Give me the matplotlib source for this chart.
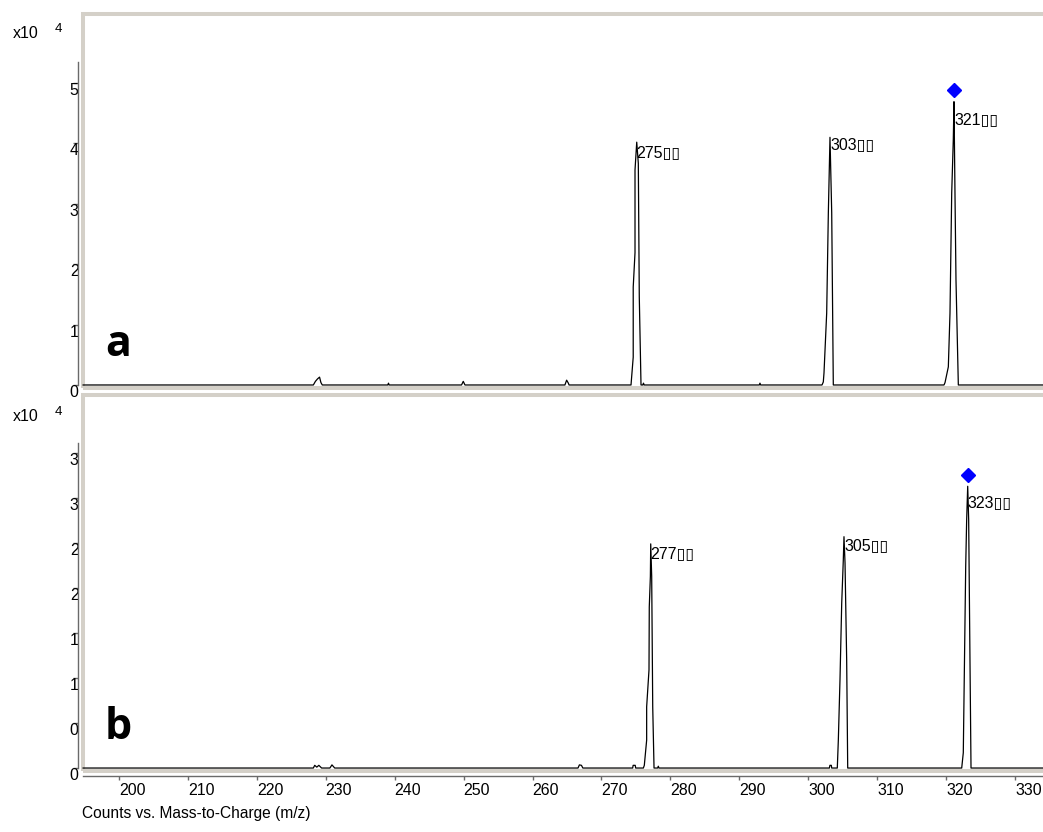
import matplotlib
matplotlib.use("Agg")
import matplotlib.pyplot as plt
from matplotlib.patches import Rectangle

plt.rcParams['font.family'] = ['Liberation Sans', 'DejaVu Sans']

# spectrum a (m/z, counts x10^4)
mz_a = [194.8, 228.2, 228.5, 228.8, 229.1, 229.3, 229.5,
        239.0, 239.1, 239.2,
        249.7, 249.95, 250.2,
        264.7, 264.95, 265.2, 265.3,
        274.29, 274.61, 274.61, 274.87, 274.87, 275.12, 275.35, 275.49, 275.74,
        276.0, 276.1, 276.2,
        292.9, 293.0, 293.1,
        302.0, 302.19, 302.29, 302.68, 302.92, 303.16, 303.41, 303.64,
        319.7, 319.85, 320.33, 320.57, 320.82, 321.05, 321.15, 321.30, 321.44, 321.78,
        334.6]
int_a = [0, 0, 0.06, 0.1, 0.13, 0.04, 0,
         0, 0.03, 0,
         0, 0.06, 0,
         0, 0.08, 0.03, 0,
         0, 0.46, 1.62, 2.19, 3.56, 4.02, 3.67, 1.46, 0,
         0, 0.03, 0,
         0, 0.03, 0,
         0, 0.05, 0.2, 1.19, 2.85, 4.1, 2.85, 0,
         0, 0.04, 0.3, 1.19, 3.18, 4.06, 4.69, 3.11, 1.74, 0,
         0]

# spectrum b
mz_b = [194.8, 228.2, 228.4, 228.7, 229.0, 229.4,
        230.6, 230.9, 231.3,
        266.6, 266.8, 267.1, 267.3,
        274.53, 274.6, 274.9, 274.97,
        276.08, 276.22, 276.56, 276.56, 276.90, 276.94, 277.10, 277.15, 277.29, 277.44, 277.63,
        278.15, 278.25, 278.35,
        303.07, 303.15, 303.35, 303.41,
        304.22, 304.37, 304.61, 304.86, 305.09, 305.19, 305.34, 305.58, 305.73,
        322.27, 322.50, 322.60, 322.85, 322.99, 323.14, 323.28, 323.47, 323.62,
        334.6]
int_b = [0, 0, 0.03, 0.01, 0.03, 0,
         0, 0.035, 0,
         0, 0.035, 0.03, 0,
         0, 0.03, 0.03, 0,
         0, 0.03, 0.31, 0.68, 1.09, 1.79, 2.13, 2.49, 2.13, 0.68, 0,
         0, 0.02, 0,
         0, 0.03, 0.03, 0,
         0, 0.31, 0.98, 1.83, 2.31, 2.57, 2.28, 1.2, 0,
         0, 0.17, 0.76, 2.24, 2.76, 3.13, 2.76, 1.2, 0,
         0]

# peak labels
lab_mz_a = [275.12, 303.16, 321.15]
lab_y_a = [3.97, 4.1, 4.51]
lab_txt_a = ['275', '303', '321']
lab_mz_b = [277.15, 305.19, 323.14]
lab_y_b = [2.47, 2.56, 3.03]
lab_txt_b = ['277', '305', '323']

# precursor diamonds
prec_a = (321.15, 4.88)
prec_b = (323.14, 3.26)

yticks_a = [0, 1, 2, 3, 4, 5]
ylabels_a = ['0', '1', '2', '3', '4', '5']
yticks_b = [0, 0.5, 1, 1.5, 2, 2.5, 3, 3.5]
ylabels_b = ['0', '0', '1', '1', '2', '2', '3', '3']
xticks = [200, 210, 220, 230, 240, 250, 260, 270, 280, 290, 300, 310, 320, 330]

W, H = 1043, 832
fig = plt.figure(figsize=(W / 100, H / 100), dpi=100)

frame_col = '#d4d0c8'
axis_col = '#6a6a6a'
fs = 11.5


def px(x, y):
    return x / W, 1 - y / H


def setup(ax, mz, inten, labx, laby, labt, prec, yt, yl, ylim, spine_top, tag):
    ax.plot(mz, inten, color='black', lw=0.9, zorder=3, clip_on=False)
    ax.plot([prec[0]], [prec[1]], marker='D', color='#0000ff', ms=7.5, ls='none', zorder=4)
    for x, y, t in zip(labx, laby, labt):
        ax.text(x, y, t + '\u25af\u25af', ha='left', va='top', fontsize=fs, zorder=5)
    ax.set_xlim(194.78, 334.5)
    ax.set_ylim(*ylim)
    for s in ['top', 'right', 'bottom']:
        ax.spines[s].set_visible(False)
    ax.spines['left'].set_position(('outward', 3.3))
    ax.spines['left'].set_color(axis_col)
    ax.spines['left'].set_linewidth(1.0)
    ax.spines['left'].set_bounds(0, spine_top)
    ax.set_yticks(yt)
    ax.set_yticklabels(yl)
    ax.tick_params(axis='y', direction='out', length=3.5, width=1.0, color=axis_col,
                   pad=-3.6, labelsize=fs)
    for lbl in ax.get_yticklabels():
        lbl.set_va('top')
    ax.add_patch(Rectangle((0, 0), 1, 1, transform=ax.transAxes, fill=False,
                           ec=frame_col, lw=2.9, clip_on=False, zorder=1))
    ax.text(0.0228, 0.085, tag, transform=ax.transAxes, fontsize=31, fontweight='bold',
            family='Open Sans', ha='left', va='baseline')


ax_a = fig.add_axes([83 / W, 1 - 388 / H, 963 / W, 374.5 / H])
setup(ax_a, mz_a, int_a, lab_mz_a, lab_y_a, lab_txt_a, prec_a, yticks_a, ylabels_a,
      (-0.05, 6.15), 5.34, 'a')
ax_a.set_xticks([])

ax_b = fig.add_axes([83 / W, 1 - 771 / H, 963 / W, 376 / H])
setup(ax_b, mz_b, int_b, lab_mz_b, lab_y_b, lab_txt_b, prec_b, yticks_b, ylabels_b,
      (-0.033, 4.144), 3.61, 'b')
ax_b.spines['bottom'].set_visible(True)
ax_b.spines['bottom'].set_position(('outward', 3.4))
ax_b.spines['bottom'].set_color(axis_col)
ax_b.spines['bottom'].set_linewidth(1.0)
ax_b.set_xticks(xticks)
ax_b.set_xticklabels([str(v) for v in xticks])
ax_b.tick_params(axis='x', direction='out', length=3.0, width=1.0, color=axis_col,
                 pad=2.0, labelsize=fs)
for lbl in ax_b.get_xticklabels():
    lbl.set_ha('left')

# multiplier labels
for ybase in (38, 421):
    fig.text(*px(13, ybase), 'x10', fontsize=fs, va='baseline', ha='left')
    fig.text(*px(55, ybase - 6), '4', fontsize=9.5, va='baseline', ha='left')

fig.text(*px(82, 818), 'Counts vs. Mass-to-Charge (m/z)', fontsize=11.2, va='baseline', ha='left')

fig.savefig('out.png', dpi=100)
